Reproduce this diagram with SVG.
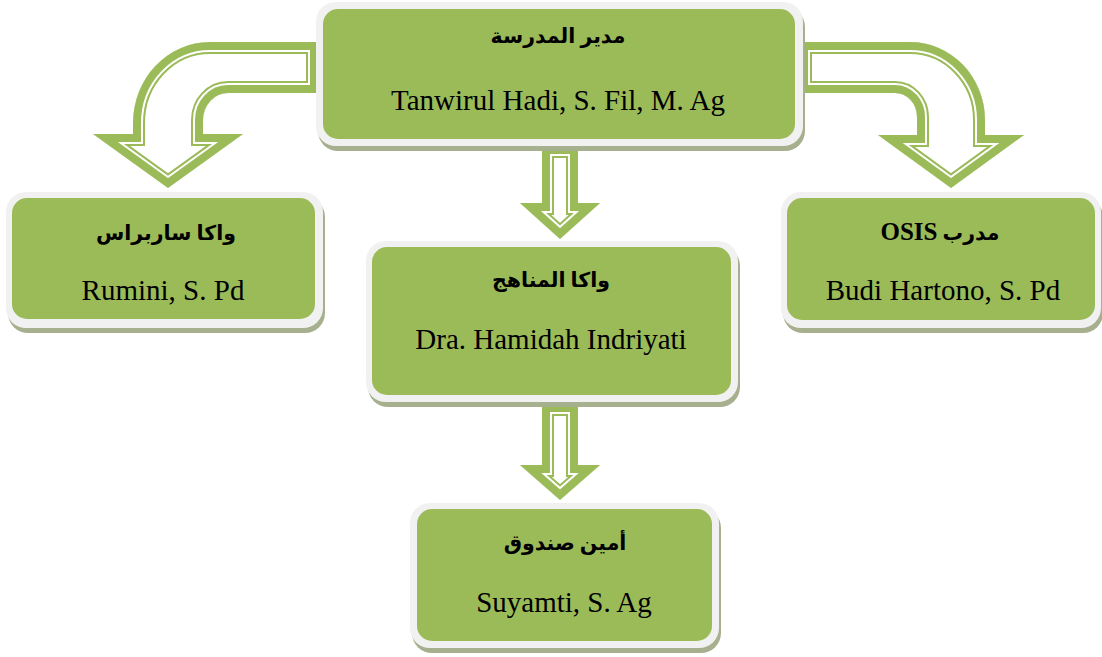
<svg xmlns="http://www.w3.org/2000/svg" xmlns:xlink="http://www.w3.org/1999/xlink" width="1102" height="657" viewBox="0 0 1102 657">
<style>
.sh{fill:#a7b08e}
.bd{fill:#f1f1f1}
.gr{fill:#9bbb59}
.s1{fill:#fff;stroke:#9bbb59;stroke-width:24;stroke-linejoin:miter;stroke-miterlimit:10}
.s2{fill:none;stroke:#fff;stroke-width:20;stroke-linejoin:miter;stroke-miterlimit:10}
.s3{fill:none;stroke:#9bbb59;stroke-width:16;stroke-linejoin:miter;stroke-miterlimit:10}
.ar{font-family:"Liberation Serif","DejaVu Sans",sans-serif;font-weight:bold;font-size:20.5px;text-anchor:middle;fill:#000}
.la{font-family:"Liberation Serif","Times New Roman",serif;font-size:29px;text-anchor:middle;fill:#000}
</style>
<defs>
<path id="a-left" d="M133,134 L133,123 A77 81 0 0 1 210,42 L318,42 L318,93 L228,93 A25 27 0 0 0 203,120 L203,134 L243,134 L168,188 L93,134 Z"/>
<path id="a-right" d="M800,42 L910,42 A75 78 0 0 1 985,120 L985,135 L1024,135 L951,188 L878,135 L917,135 L917,117 A22 24 0 0 0 895,93 L800,93 Z"/>
<path id="a-mid1" d="M542,146 L578,146 L578,203 L600,203 L560,239 L520,203 L542,203 Z"/>
<path id="a-mid2" d="M542,404 L578,404 L578,465 L600,465 L560,500 L520,465 L542,465 Z"/>
<clipPath id="c-left"><use xlink:href="#a-left"/></clipPath>
<clipPath id="c-right"><use xlink:href="#a-right"/></clipPath>
<clipPath id="c-mid1"><use xlink:href="#a-mid1"/></clipPath>
<clipPath id="c-mid2"><use xlink:href="#a-mid2"/></clipPath>
</defs>
<rect width="1102" height="657" fill="#fff"/>
<g id="connectors">
<g clip-path="url(#c-left)"><use xlink:href="#a-left" class="s1"/><use xlink:href="#a-left" class="s2"/><use xlink:href="#a-left" class="s3"/></g>
<g clip-path="url(#c-right)"><use xlink:href="#a-right" class="s1"/><use xlink:href="#a-right" class="s2"/><use xlink:href="#a-right" class="s3"/></g>
<g clip-path="url(#c-mid1)"><use xlink:href="#a-mid1" class="s1"/><use xlink:href="#a-mid1" class="s2"/><use xlink:href="#a-mid1" class="s3"/></g>
<g clip-path="url(#c-mid2)"><use xlink:href="#a-mid2" class="s1"/><use xlink:href="#a-mid2" class="s2"/><use xlink:href="#a-mid2" class="s3"/></g>
</g>
<g id="n-top">
<rect class="sh" x="318" y="7" width="487" height="144" rx="20"/>
<rect class="bd" x="316" y="2" width="487" height="144" rx="20"/>
<rect class="gr" x="323" y="9" width="472" height="130" rx="15"/>
<text class="ar" x="558" y="43">مدير المدرسة</text>
<text class="la" x="558" y="110">Tanwirul Hadi, S. Fil, M. Ag</text>
</g>
<g id="n-left">
<rect class="sh" x="8" y="197" width="317" height="136" rx="20"/>
<rect class="bd" x="6" y="192" width="317" height="136" rx="20"/>
<rect class="gr" x="12" y="198" width="303" height="121" rx="15"/>
<text class="ar" x="166" y="240">واكا ساربراس</text>
<text class="la" x="163" y="300">Rumini, S. Pd</text>
</g>
<g id="n-right">
<rect class="sh" x="783" y="197" width="320" height="136" rx="20"/>
<rect class="bd" x="781" y="192" width="320" height="136" rx="20"/>
<rect class="gr" x="787" y="198" width="308" height="122" rx="15"/>
<text class="ar" x="940" y="240" direction="rtl">مدرب <tspan font-size="25">OSIS</tspan></text>
<text class="la" x="943" y="300">Budi Hartono, S. Pd</text>
</g>
<g id="n-mid">
<rect class="sh" x="368" y="246" width="372" height="161" rx="20"/>
<rect class="bd" x="366" y="241" width="372" height="161" rx="20"/>
<rect class="gr" x="372" y="247" width="359" height="148" rx="15"/>
<text class="ar" x="551" y="287">واكا المناهج</text>
<text class="la" x="551" y="349">Dra. Hamidah Indriyati</text>
</g>
<g id="n-bottom">
<rect class="sh" x="412" y="508" width="309" height="145" rx="20"/>
<rect class="bd" x="410" y="503" width="309" height="145" rx="20"/>
<rect class="gr" x="417" y="509" width="295" height="132" rx="15"/>
<text class="ar" x="565" y="550">أمين صندوق</text>
<text class="la" x="564" y="612">Suyamti, S. Ag</text>
</g>
</svg>
